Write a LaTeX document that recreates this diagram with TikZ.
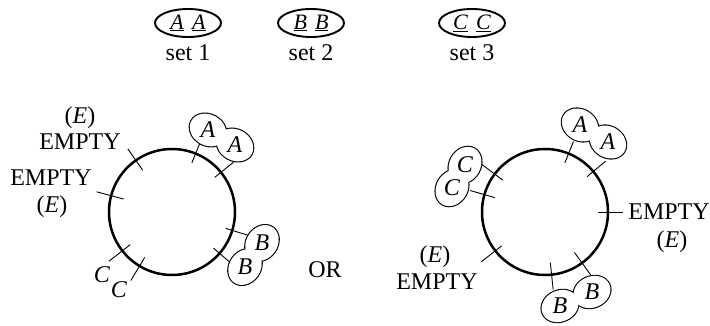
\documentclass[tikz,border=0pt]{standalone}
\usepackage{fontspec}
\setmainfont{Liberation Serif}
\usetikzlibrary{shapes.geometric,calc}
\newcommand{\pnut}[3]{%
 \draw[line width=2.2pt,rotate around={#3:(#1)}] (#1) ellipse[x radius=19pt,y radius=15.5pt];
 \draw[line width=2.2pt,rotate around={#3:(#2)}] (#2) ellipse[x radius=19pt,y radius=15.5pt];
 \fill[white,rotate around={#3:(#1)}] (#1) ellipse[x radius=19pt,y radius=15.5pt];
 \fill[white,rotate around={#3:(#2)}] (#2) ellipse[x radius=19pt,y radius=15.5pt];
}
\begin{document}
\begin{tikzpicture}[x=1pt,y=1pt,
  lbl/.style={inner sep=0pt,font=\fontsize{24}{28}\selectfont},
  ring/.style={draw,circle,line width=2.5pt,minimum size=126pt,inner sep=0pt},
  setel/.style={draw,ellipse,line width=1.9pt,minimum width=66pt,minimum height=28pt,inner sep=0pt,font=\fontsize{22}{26}\selectfont},
  tick/.style={line width=0.9pt}]
\useasboundingbox (0,0) rectangle (710,326);
% sets
\node[setel] (s1) at (188,303) {\underline{\textit{A}}\hspace{8pt}\underline{\textit{A}}};
\node[setel] (s2) at (311,303) {\underline{\textit{B}}\hspace{8pt}\underline{\textit{B}}};
\node[setel] (s3) at (472,303) {\underline{\textit{C}}\hspace{8pt}\underline{\textit{C}}};
\node[lbl] (t1) at (188,273) {set 1};
\node[lbl] (t2) at (311,273) {set 2};
\node[lbl] (t3) at (472,273) {set 3};
% left ring
\node[ring] (cL) at (172,114) {};
\draw[tick] ($(cL.center)+(125:51)$) -- ($(cL.center)+(125:77)$);
\draw[tick] ($(cL.center)+(165:50)$) -- ($(cL.center)+(165:78)$);
\draw[tick] ($(cL.center)+(218:53)$) -- ($(cL.center)+(218:80)$);
\draw[tick] ($(cL.center)+(239:53)$) -- ($(cL.center)+(239:80)$);
\draw[tick] ($(cL.center)+(68:53)$) -- ($(cL.center)+(68:78)$);
\draw[tick] ($(cL.center)+(39:55)$) -- ($(cL.center)+(39:79)$);
\draw[tick] ($(cL.center)+(-17:56)$) -- ($(cL.center)+(-17:82)$);
\draw[tick] ($(cL.center)+(-41:55)$) -- ($(cL.center)+(-41:80)$);
\node[lbl] (eL1) at (80,208) {(\textit{E})};
\node[lbl] (mL1) at (80,184) {EMPTY};
\node[lbl] (mL2) at (51,148) {EMPTY};
\node[lbl] (eL2) at (52,119) {(\textit{E})};
\node[lbl] (cL1) at (102,51) {\textit{C}};
\node[lbl] (cL2) at (119,36) {\textit{C}};
\coordinate (pA1) at (208,196); \coordinate (pA2) at (235,181);
\pnut{pA1}{pA2}{-29}
\coordinate (pB2) at (245,59); \coordinate (pB1) at (262,83);
\pnut{pB2}{pB1}{55}
\node[lbl] (aL1) at (pA1) {\textit{A}};
\node[lbl] (aL2) at (pA2) {\textit{A}};
\node[lbl] (bL1) at (pB1) {\textit{B}};
\node[lbl] (bL2) at (pB2) {\textit{B}};
% OR
\node[lbl] (or) at (325,56) {OR};
% right ring
\node[ring] (cR) at (545,114) {};
\draw[tick] ($(cR.center)+(68:53)$) -- ($(cR.center)+(68:76)$);
\draw[tick] ($(cR.center)+(40:55)$) -- ($(cR.center)+(40:79)$);
\draw[tick] ($(cR.center)+(0:53)$) -- ($(cR.center)+(0:78)$);
\draw[tick] ($(cR.center)+(-84:51)$) -- ($(cR.center)+(-84:78)$);
\draw[tick] ($(cR.center)+(-54:50)$) -- ($(cR.center)+(-54:78)$);
\draw[tick] ($(cR.center)+(218:55)$) -- ($(cR.center)+(218:81)$);
\draw[tick] ($(cR.center)+(143:53)$) -- ($(cR.center)+(143:79)$);
\draw[tick] ($(cR.center)+(164:52)$) -- ($(cR.center)+(164:78)$);
\node[lbl] (mR1) at (669,114) {EMPTY};
\node[lbl] (eR1) at (672,84) {(\textit{E})};
\node[lbl] (eR2) at (435,69) {(\textit{E})};
\node[lbl] (mR2) at (437,44) {EMPTY};
\coordinate (qA1) at (580,201); \coordinate (qA2) at (608,184);
\pnut{qA1}{qA2}{-31}
\coordinate (qB1) at (560,20); \coordinate (qB2) at (592,34);
\pnut{qB1}{qB2}{24}
\coordinate (qC2) at (452,138); \coordinate (qC1) at (465,161);
\pnut{qC2}{qC1}{60}
\node[lbl] (aR1) at (qA1) {\textit{A}};
\node[lbl] (aR2) at (qA2) {\textit{A}};
\node[lbl] (bR1) at (qB1) {\textit{B}};
\node[lbl] (bR2) at (qB2) {\textit{B}};
\node[lbl] (cR1) at (qC1) {\textit{C}};
\node[lbl] (cR2) at (qC2) {\textit{C}};
\end{tikzpicture}
\end{document}
